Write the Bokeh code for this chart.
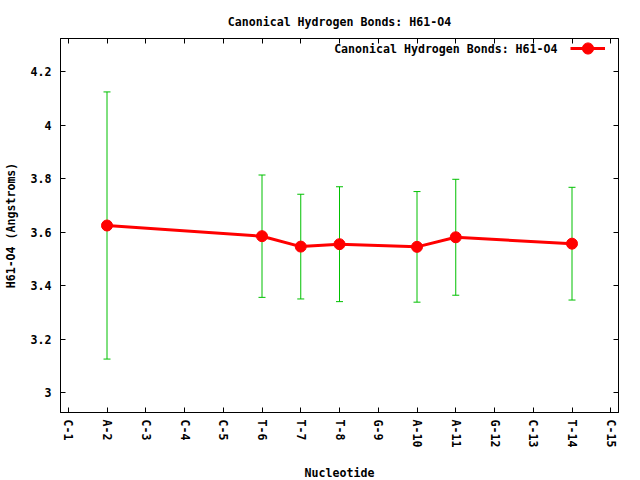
from bokeh.plotting import figure
from bokeh.models import (Range1d, FixedTicker, LinearAxis, Whisker, TeeHead,
                          ColumnDataSource, Legend, LegendItem, Label,
                          CustomJSTickFormatter)
from bokeh.embed import file_html
from bokeh.resources import INLINE

# ---- data ----
nucleotides = ["C-1", "A-2", "C-3", "C-4", "C-5", "T-6", "T-7", "T-8",
               "G-9", "A-10", "A-11", "G-12", "C-13", "T-14", "C-15"]
positions = [2, 6, 7, 8, 10, 11, 14]
mean_dist = [3.625, 3.585, 3.546, 3.555, 3.545, 3.581, 3.557]
std_dist = [0.500, 0.229, 0.196, 0.215, 0.207, 0.217, 0.211]
y_ticks = [3.0, 3.2, 3.4, 3.6, 3.8, 4.0, 4.2]
title_text = "Canonical Hydrogen Bonds: H61-O4"
x_label = "Nucleotide"
y_label = "H61-O4 (Angstroms)"

FONT = "DejaVu Sans Mono"
FS = "11.6px"

upper = [m + s for m, s in zip(mean_dist, std_dist)]
lower = [m - s for m, s in zip(mean_dist, std_dist)]
src = ColumnDataSource(dict(x=positions, y=mean_dist, upper=upper, lower=lower))

x_ticks = list(range(1, len(nucleotides) + 1))

p = figure(frame_width=558, frame_height=374,
           min_border_left=53, min_border_right=13,
           min_border_top=38, min_border_bottom=68,
           x_range=Range1d(0.8, 15.2),
           y_range=Range1d(min(lower) - 0.2, max(upper) + 0.2),
           output_backend="svg", toolbar_location=None,
           title=title_text)

p.background_fill_color = "white"
p.border_fill_color = "white"
p.outline_line_color = "black"
p.outline_line_width = 1
p.xgrid.visible = False
p.ygrid.visible = False

p.title.align = "center"
p.title.text_font = FONT
p.title.text_font_size = FS
p.title.text_font_style = "bold"
p.title.text_color = "black"
p.title.standoff = 19

fmt = CustomJSTickFormatter(code="return tick.toFixed(1).replace(/\\.0$/, '');")
blank = CustomJSTickFormatter(code="return '';")

def style_axis(ax):
    ax.major_tick_in = 5
    ax.major_tick_out = 0
    ax.minor_tick_in = 0
    ax.minor_tick_out = 0
    ax.axis_line_color = "black"
    ax.major_tick_line_color = "black"
    ax.major_label_text_font = FONT
    ax.major_label_text_font_size = FS
    ax.major_label_text_font_style = "bold"
    ax.major_label_text_color = "black"
    ax.axis_label_text_font = FONT
    ax.axis_label_text_font_size = FS
    ax.axis_label_text_font_style = "bold"
    ax.axis_label_text_color = "black"

xa = p.xaxis[0]
xa.ticker = FixedTicker(ticks=x_ticks)
xa.major_label_overrides = {i: n for i, n in zip(x_ticks, nucleotides)}
xa.major_label_orientation = "vertical"
xa.axis_label = x_label
style_axis(xa)
xa.major_label_standoff = 7
xa.axis_label_standoff = 16

ya = p.yaxis[0]
ya.ticker = FixedTicker(ticks=y_ticks)
ya.formatter = fmt
ya.axis_label = y_label
style_axis(ya)
ya.major_label_standoff = 9
ya.axis_label_standoff = 10

top_ax = LinearAxis(ticker=FixedTicker(ticks=x_ticks), formatter=blank)
style_axis(top_ax)
top_ax.major_label_standoff = 0
p.add_layout(top_ax, "above")

right_ax = LinearAxis(ticker=FixedTicker(ticks=y_ticks), formatter=blank)
style_axis(right_ax)
right_ax.major_label_standoff = 0
p.add_layout(right_ax, "right")

green = "#00c000"
red = "#ff0000"

wh = Whisker(source=src, base="x", upper="upper", lower="lower",
             line_color=green, line_width=1,
             upper_head=TeeHead(size=7, line_color=green, line_width=1),
             lower_head=TeeHead(size=7, line_color=green, line_width=1),
             level="underlay")
p.add_layout(wh)

ln = p.line("x", "y", source=src, line_color=red, line_width=3)
sc = p.scatter("x", "y", source=src, size=11, marker="circle",
               fill_color=red, line_color=red)

leg = Legend(items=[LegendItem(label=" ", renderers=[ln, sc])],
             location=(510, 350), padding=0, margin=0,
             glyph_width=35, glyph_height=28, label_standoff=0,
             label_width=0, label_height=0, label_text_font=FONT,
             label_text_font_size=FS,
             border_line_alpha=0, background_fill_alpha=0)
p.add_layout(leg, "center")

lbl = Label(x=497, y=364, x_units="screen", y_units="screen",
            text=title_text, text_align="right", text_baseline="middle",
            text_font=FONT, text_font_size=FS, text_font_style="bold",
            text_color="black")
p.add_layout(lbl)

open("out.html", "w").write(file_html(p, INLINE))
